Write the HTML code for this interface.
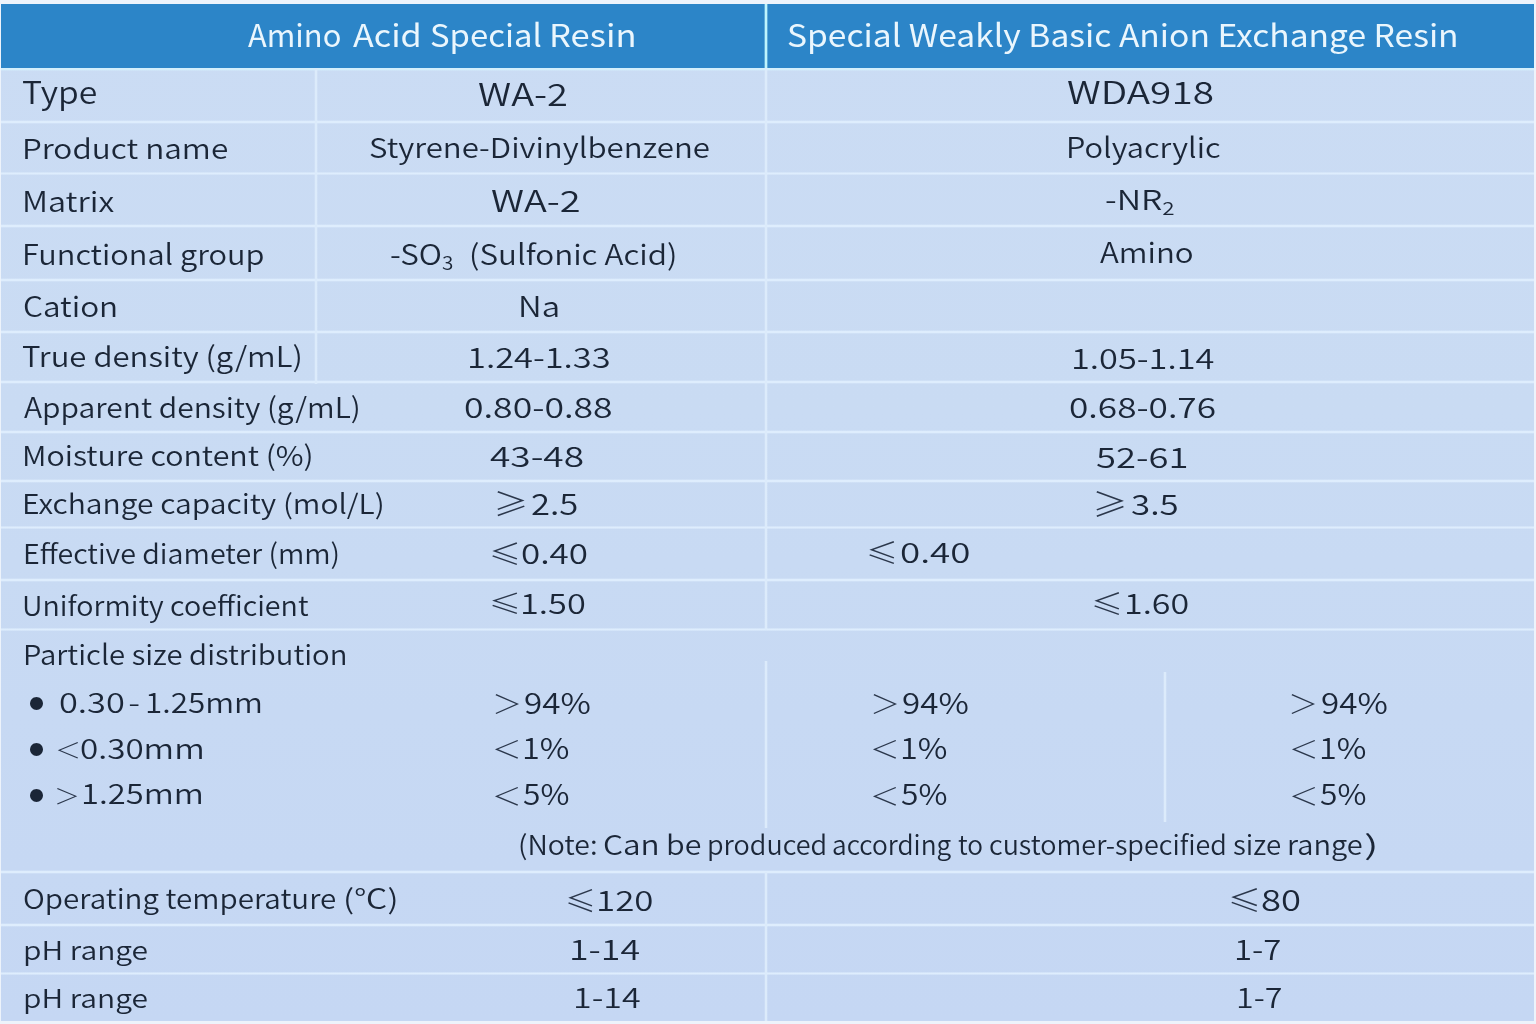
<!DOCTYPE html>
<html lang="en">
<head>
<meta charset="utf-8">
<title>Resin specification table</title>
<style>
html,body{margin:0;padding:0}
body{width:1536px;height:1024px;overflow:hidden;background:#edf3fb;font-family:"Noto Sans CJK SC", "Liberation Sans", "DejaVu Sans", sans-serif;position:relative}
#tbl{position:absolute;left:1px;top:4px;width:1533px;height:1017px;background:linear-gradient(to bottom,#cbdcf4 0,#c9dbf3 40%,#c5d7f3 100%);overflow:hidden}
#hdr{position:absolute;left:0;top:0;width:1533px;height:64px;background:#2c85c8}
.hl{position:absolute;left:0;width:1533px;height:4px;background:linear-gradient(to bottom,rgba(222,237,253,.3) 0 1px,#deedfd 1px 3px,rgba(222,237,253,.3) 3px 4px)}
.hl.c{height:3px;background:linear-gradient(to bottom,rgba(222,237,253,.55) 0 1px,#deedfd 1px 2px,rgba(222,237,253,.55) 2px 3px)}
.vl{position:absolute;width:4px;background:linear-gradient(to right,rgba(222,236,252,.25) 0 1px,#dcebfb 1px 3px,rgba(222,236,252,.25) 3px 4px)}
#txt{position:absolute;left:0;top:0;width:1536px;height:1024px}
.t{position:absolute;white-space:pre;line-height:1;transform-origin:0 0;font-weight:350;color:#1b2637}
.t.h{color:#eaf6fd;font-weight:400}
.t.s{font-weight:300;color:#2b374b}
.t.b{font-weight:400}
.t sub{font-size:.66em;vertical-align:baseline;position:relative;top:.27em;line-height:0}

</style>
</head>
<body>
<div id="tbl">
  <div id="hdr"></div>
  <div class="hl" style="top:64px;height:3px;background:linear-gradient(to bottom,#d4effc 0 2px,rgba(212,239,252,.4) 2px 3px)"></div>
  <div class="hl" style="top:116px"></div>
  <div class="hl c" style="top:168px"></div>
  <div class="hl" style="top:220px"></div>
  <div class="hl" style="top:274px"></div>
  <div class="hl" style="top:326px"></div>
  <div class="hl" style="top:376px"></div>
  <div class="hl" style="top:426px"></div>
  <div class="hl" style="top:475px"></div>
  <div class="hl c" style="top:522px"></div>
  <div class="hl" style="top:574px"></div>
  <div class="hl c" style="top:624px"></div>
  <div class="hl" style="top:866px"></div>
  <div class="hl" style="top:919px"></div>
  <div class="hl c" style="top:968px"></div>
  <div class="vl" style="left:313px;top:64px;height:316px"></div>
  <div class="vl" style="left:763px;top:0;height:64px;background:linear-gradient(to right,rgba(190,244,253,.35) 0 1px,#bef4fd 1px 3px,rgba(190,244,253,.35) 3px 4px)"></div>
  <div class="vl" style="left:763px;top:64px;height:562px"></div>
  <div class="vl" style="left:763px;top:657px;height:167px"></div>
  <div class="vl" style="left:763px;top:868px;height:149px"></div>
  <div class="vl" style="left:1162px;top:668px;height:150px"></div>
</div>
<div id="txt">
<div class="r">
<span class="t h" style="left:247.7px;top:18.1px;font-size:31.33px;transform:scaleX(0.985)">Amino</span>
<span class="t h" style="left:353.3px;top:18.1px;font-size:31.33px;transform:scaleX(1.090)">Acid</span>
<span class="t h" style="left:429.9px;top:18.1px;font-size:31.33px;transform:scaleX(1.049)">Special</span>
<span class="t h" style="left:549.4px;top:18.1px;font-size:31.33px;transform:scaleX(1.103)">Resin</span>
<span class="t h" style="left:787.4px;top:18.1px;font-size:31.33px;transform:scaleX(1.072)">Special Weakly Basic Anion Exchange Resin</span>
</div>
<div class="r">
<span class="t l" style="left:21.9px;top:75.0px;font-size:31.19px;transform:scaleX(1.081)">Type</span>
<span class="t v" style="left:478.3px;top:77.4px;font-size:31.47px;transform:scaleX(1.208)">WA-2</span>
<span class="t v" style="left:1066.7px;top:76.3px;font-size:30.77px;transform:scaleX(1.259)">WDA918</span>
</div>
<div class="r">
<span class="t l" style="left:22.0px;top:134.1px;font-size:27.69px;transform:scaleX(1.140)">Product name</span>
<span class="t v" style="left:369.2px;top:133.3px;font-size:27.69px;transform:scaleX(1.127)">Styrene-Divinylbenzene</span>
<span class="t v" style="left:1066.2px;top:132.9px;font-size:27.97px;transform:scaleX(1.103)">Polyacrylic</span>
</div>
<div class="r">
<span class="t l" style="left:22.2px;top:186.6px;font-size:27.97px;transform:scaleX(1.155)">Matrix</span>
<span class="t v" style="left:491.2px;top:184.7px;font-size:29.79px;transform:scaleX(1.272)">WA-2</span>
<span class="t v" style="left:1105.3px;top:184.7px;font-size:27.69px;transform:scaleX(1.227)">-NR<sub>2</sub></span>
</div>
<div class="r">
<span class="t l" style="left:22.4px;top:238.5px;font-size:28.39px;transform:scaleX(1.084)">Functional group</span>
<span class="t v" style="left:390.4px;top:239.0px;font-size:28.39px;transform:scaleX(1.107)">-SO<sub>3</sub> (Sulfonic Acid)</span>
<span class="t v" style="left:1099.5px;top:236.5px;font-size:28.39px;transform:scaleX(1.101)">Amino</span>
</div>
<div class="r">
<span class="t l" style="left:23.3px;top:290.8px;font-size:28.39px;transform:scaleX(1.109)">Cation</span>
<span class="t v" style="left:517.8px;top:290.8px;font-size:28.39px;transform:scaleX(1.161)">Na</span>
</div>
<div class="r">
<span class="t l" style="left:21.7px;top:342.2px;font-size:27.97px;transform:scaleX(1.112)">True density (g/mL)</span>
<span class="t v" style="left:466.5px;top:343.4px;font-size:27.97px;transform:scaleX(1.230)">1.24-1.33</span>
<span class="t v" style="left:1070.5px;top:343.6px;font-size:27.97px;transform:scaleX(1.228)">1.05-1.14</span>
</div>
<div class="r">
<span class="t l" style="left:23.5px;top:393.0px;font-size:27.97px;transform:scaleX(1.073)">Apparent density (g/mL)</span>
<span class="t v" style="left:463.7px;top:392.0px;font-size:28.39px;transform:scaleX(1.254)">0.80-0.88</span>
<span class="t v" style="left:1069.3px;top:392.0px;font-size:28.39px;transform:scaleX(1.241)">0.68-0.76</span>
</div>
<div class="r">
<span class="t l" style="left:22.4px;top:441.4px;font-size:27.41px;transform:scaleX(1.109)">Moisture content (%)</span>
<span class="t v" style="left:489.8px;top:441.6px;font-size:27.97px;transform:scaleX(1.324)">43-48</span>
<span class="t v" style="left:1095.7px;top:442.6px;font-size:27.97px;transform:scaleX(1.301)">52-61</span>
</div>
<div class="r">
<span class="t l" style="left:22.4px;top:488.7px;font-size:27.13px;transform:scaleX(1.106)">Exchange capacity (mol/L)</span>
<span class="t s" style="left:492.6px;top:486.8px;font-size:31.25px;transform:scaleX(1.131)">≥</span>
<span class="t v" style="left:531.0px;top:488.5px;font-size:28.67px;transform:scaleX(1.208)">2.5</span>
<span class="t s" style="left:1092.3px;top:486.3px;font-size:32.19px;transform:scaleX(1.102)">≥</span>
<span class="t v" style="left:1130.8px;top:488.5px;font-size:28.39px;transform:scaleX(1.229)">3.5</span>
</div>
<div class="r">
<span class="t l" style="left:22.6px;top:538.7px;font-size:27.41px;transform:scaleX(1.045)">Effective diameter (mm)</span>
<span class="t s" style="left:488.8px;top:538.6px;font-size:28.12px;transform:scaleX(1.147)">≤</span>
<span class="t v" style="left:520.5px;top:537.6px;font-size:28.39px;transform:scaleX(1.233)">0.40</span>
<span class="t s" style="left:866.3px;top:538.1px;font-size:28.44px;transform:scaleX(1.134)">≤</span>
<span class="t v" style="left:899.9px;top:537.7px;font-size:27.97px;transform:scaleX(1.314)">0.40</span>
</div>
<div class="r">
<span class="t l" style="left:21.9px;top:590.5px;font-size:27.41px;transform:scaleX(1.045)">Uniformity coefficient</span>
<span class="t s" style="left:488.8px;top:590.3px;font-size:26.81px;transform:scaleX(1.203)">≤</span>
<span class="t v" style="left:520.0px;top:589.1px;font-size:27.97px;transform:scaleX(1.228)">1.50</span>
<span class="t s" style="left:1091.3px;top:589.3px;font-size:28.44px;transform:scaleX(1.134)">≤</span>
<span class="t v" style="left:1123.8px;top:589.4px;font-size:27.97px;transform:scaleX(1.215)">1.60</span>
</div>
<div class="r">
<span class="t l" style="left:22.5px;top:639.7px;font-size:27.69px;transform:scaleX(1.058)">Particle size distribution</span>
</div>
<div class="r">
<span class="t b" style="left:6.1px;top:670.1px;font-size:61.00px;transform:scaleX(1.000)">•</span>
<span class="t l" style="left:58.6px;top:687.8px;font-size:27.97px;transform:scaleX(1.229)">0.30</span>
<span class="t l" style="left:128.7px;top:687.8px;font-size:27.97px;transform:scaleX(0.692)">–</span>
<span class="t l" style="left:144.8px;top:687.8px;font-size:27.97px;transform:scaleX(1.123)">1.25mm</span>
<span class="t s" style="left:491.8px;top:690.1px;font-size:25.81px;transform:scaleX(1.173)">＞</span>
<span class="t v" style="left:524.1px;top:687.8px;font-size:28.67px;transform:scaleX(1.159)">94%</span>
<span class="t s" style="left:869.5px;top:690.1px;font-size:25.81px;transform:scaleX(1.173)">＞</span>
<span class="t v" style="left:901.8px;top:687.8px;font-size:28.67px;transform:scaleX(1.159)">94%</span>
<span class="t s" style="left:1288.4px;top:690.1px;font-size:25.81px;transform:scaleX(1.173)">＞</span>
<span class="t v" style="left:1320.7px;top:687.8px;font-size:28.67px;transform:scaleX(1.159)">94%</span>
</div>
<div class="r">
<span class="t b" style="left:6.1px;top:715.9px;font-size:61.00px;transform:scaleX(1.000)">•</span>
<span class="t s" style="left:54.7px;top:738.4px;font-size:21.29px;transform:scaleX(1.227)">＜</span>
<span class="t l" style="left:80.3px;top:733.5px;font-size:27.55px;transform:scaleX(1.205)">0.30mm</span>
<span class="t s" style="left:492.4px;top:735.7px;font-size:24.13px;transform:scaleX(1.227)">＜</span>
<span class="t v" style="left:521.9px;top:732.6px;font-size:28.67px;transform:scaleX(1.132)">1%</span>
<span class="t s" style="left:870.1px;top:735.7px;font-size:24.13px;transform:scaleX(1.227)">＜</span>
<span class="t v" style="left:899.6px;top:732.6px;font-size:28.67px;transform:scaleX(1.132)">1%</span>
<span class="t s" style="left:1289.0px;top:735.7px;font-size:24.13px;transform:scaleX(1.227)">＜</span>
<span class="t v" style="left:1318.5px;top:732.6px;font-size:28.67px;transform:scaleX(1.132)">1%</span>
</div>
<div class="r">
<span class="t b" style="left:6.1px;top:761.6px;font-size:61.00px;transform:scaleX(1.000)">•</span>
<span class="t s" style="left:54.2px;top:783.9px;font-size:21.42px;transform:scaleX(1.214)">＞</span>
<span class="t l" style="left:81.2px;top:778.8px;font-size:27.97px;transform:scaleX(1.169)">1.25mm</span>
<span class="t s" style="left:492.4px;top:782.6px;font-size:24.13px;transform:scaleX(1.227)">＜</span>
<span class="t v" style="left:523.4px;top:779.3px;font-size:28.67px;transform:scaleX(1.106)">5%</span>
<span class="t s" style="left:870.1px;top:782.6px;font-size:24.13px;transform:scaleX(1.227)">＜</span>
<span class="t v" style="left:901.1px;top:779.3px;font-size:28.67px;transform:scaleX(1.106)">5%</span>
<span class="t s" style="left:1289.0px;top:782.6px;font-size:24.13px;transform:scaleX(1.227)">＜</span>
<span class="t v" style="left:1320.0px;top:779.3px;font-size:28.67px;transform:scaleX(1.106)">5%</span>
</div>
<div class="r">
<span class="t v" style="left:517.9px;top:830.5px;font-size:26.85px;transform:scaleX(1.056)">(Note:</span>
<span class="t v" style="left:602.6px;top:830.5px;font-size:26.85px;transform:scaleX(1.175)">Can</span>
<span class="t v" style="left:666.0px;top:830.5px;font-size:26.85px;transform:scaleX(1.132)">be</span>
<span class="t v" style="left:707.3px;top:830.5px;font-size:26.85px;transform:scaleX(1.006)">produced</span>
<span class="t v" style="left:832.3px;top:830.5px;font-size:26.85px;transform:scaleX(0.978)">according</span>
<span class="t v" style="left:958.3px;top:830.5px;font-size:26.85px;transform:scaleX(0.974)">to</span>
<span class="t v" style="left:989.0px;top:830.5px;font-size:26.85px;transform:scaleX(1.004)">customer-specified</span>
<span class="t v" style="left:1233.3px;top:830.5px;font-size:26.85px;transform:scaleX(1.031)">size</span>
<span class="t v" style="left:1287.1px;top:830.5px;font-size:26.85px;transform:scaleX(1.081)">range</span>
<span class="t v" style="left:1364.3px;top:830.5px;font-size:26.85px;transform:scaleX(1.660)">)</span>
</div>
<div class="r">
<span class="t l" style="left:23.2px;top:884.0px;font-size:27.13px;transform:scaleX(1.090)">Operating temperature</span>
<span class="t l" style="left:342.6px;top:884.0px;font-size:27.13px;transform:scaleX(1.232)">(℃)</span>
<span class="t s" style="left:565.0px;top:886.1px;font-size:28.69px;transform:scaleX(1.088)">≤</span>
<span class="t v" style="left:596.1px;top:885.7px;font-size:27.97px;transform:scaleX(1.247)">120</span>
<span class="t s" style="left:1227.8px;top:883.5px;font-size:29.75px;transform:scaleX(1.119)">≤</span>
<span class="t v" style="left:1261.1px;top:883.7px;font-size:29.37px;transform:scaleX(1.240)">80</span>
</div>
<div class="r">
<span class="t l" style="left:23.3px;top:935.7px;font-size:25.73px;transform:scaleX(1.167)">pH range</span>
<span class="t v" style="left:568.9px;top:934.7px;font-size:27.69px;transform:scaleX(1.288)">1-14</span>
<span class="t v" style="left:1234.1px;top:934.7px;font-size:27.69px;transform:scaleX(1.189)">1-7</span>
</div>
<div class="r">
<span class="t l" style="left:23.3px;top:984.1px;font-size:25.73px;transform:scaleX(1.165)">pH range</span>
<span class="t v" style="left:572.5px;top:982.6px;font-size:27.27px;transform:scaleX(1.245)">1-14</span>
<span class="t v" style="left:1235.6px;top:982.6px;font-size:27.27px;transform:scaleX(1.181)">1-7</span>
</div>
</div>
</body>
</html>
